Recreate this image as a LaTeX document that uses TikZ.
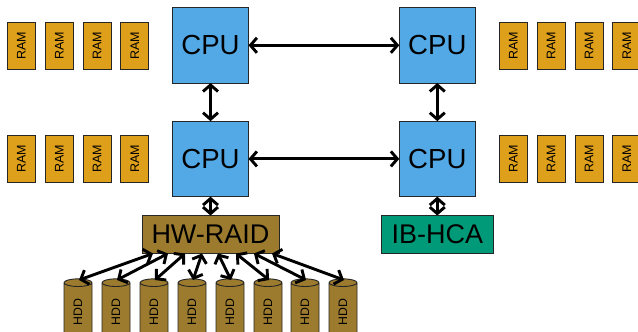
\documentclass[tikz,border=0pt]{standalone}
\usepackage{fontspec}
\setmainfont{Liberation Sans}
\usepackage{xcolor}
\usetikzlibrary{arrows.meta,shapes.geometric}
\definecolor{cpublue}{HTML}{52A9E6}
\definecolor{ramorange}{HTML}{DE9F1B}
\definecolor{raidbrown}{HTML}{9C7B2E}
\definecolor{hcagreen}{HTML}{009A78}
\tikzset{
    box/.style={draw=black!85,line width=0.9pt,inner sep=0pt,outer sep=0pt},
    cpu/.style={box,fill=cpublue,minimum width=76pt,minimum height=75.5pt,font=\fontsize{27.6}{30}\selectfont},
    ram/.style={box,fill=ramorange,minimum width=28pt,minimum height=47pt,font=\fontsize{12.5}{14}\selectfont},
    ctrl/.style={box,minimum height=38pt,font=\fontsize{27}{30}\selectfont},
    hdd/.style={box,cylinder,rotate=90,fill=raidbrown,aspect=0.9,minimum width=28pt,minimum height=62pt,font=\fontsize{12.3}{14}\selectfont},
    link/.style={<->,line width=2.9pt}
}
\begin{document}
\begin{tikzpicture}[x=1pt,y=-1pt,>={Straight Barb[length=6.5pt,width=15pt]}]
    \useasboundingbox (0,0) rectangle (638,332);
    \node[cpu] (cpuTL) at (210.5,45.3) {CPU};
    \node[cpu] (cpuTR) at (437.3,45.3) {CPU};
    \node[cpu] (cpuBL) at (210.5,158.9) {CPU};
    \node[cpu] (cpuBR) at (437.3,158.9) {CPU};
    \foreach \x [count=\i] in {21.3,59.2,97,134.7,513.2,551,589,626.7} {
        \node[ram] (ramT\i) at (\x,45.5) {\rotatebox{90}{RAM}};
        \node[ram] (ramB\i) at (\x,158.8) {\rotatebox{90}{RAM}};
    }
    \node[ctrl,fill=raidbrown,minimum width=137pt] (raid) at (210.5,234.5) {HW-RAID};
    \node[ctrl,fill=hcagreen,minimum width=111.5pt] (hca) at (437.3,234.5) {IB-HCA};
    \draw[link] (cpuTL) -- (cpuTR);
    \draw[link] (cpuBL) -- (cpuBR);
    \draw[link] (cpuTL) -- (cpuBL);
    \draw[link] (cpuTR) -- (cpuBR);
    \draw[link] (cpuBL) -- (raid);
    \draw[link] (cpuBR) -- (hca);
    % disks hang under the raid controller
    \foreach \x/\p [count=\i] in {78/153,116/168,154/185,192/202,230/218,268/236,305/254,343/272} {
        \node[hdd] (hdd\i) at (\x,312) {HDD};
        \coordinate (port\i) at (\p,253.5);
        \coordinate (top\i) at (\x+1,280);
        \draw[link] (port\i) -- (top\i);
    }
\end{tikzpicture}
\end{document}
